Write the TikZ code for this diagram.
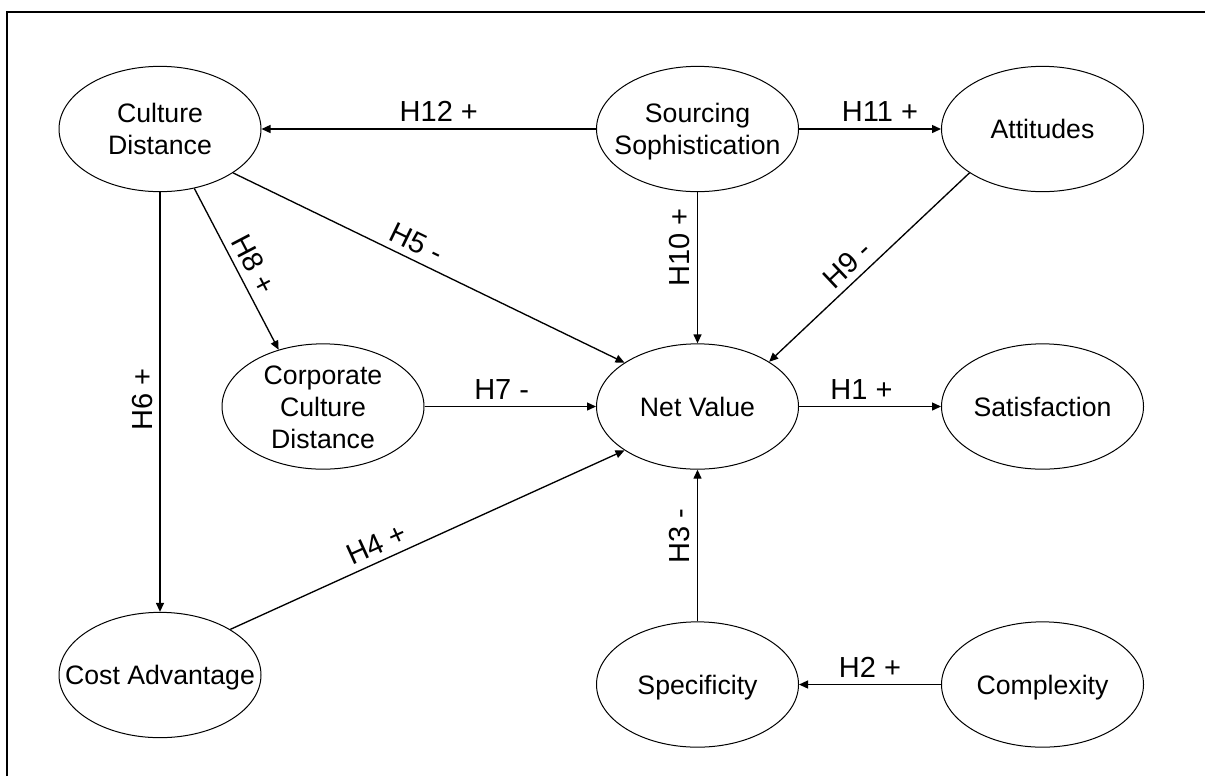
\documentclass[tikz,border=0pt]{standalone}
\usepackage{fontspec}
\setmainfont{Liberation Sans}
\usetikzlibrary{arrows.meta,shapes.geometric}
\newcommand\ctext[1]{\raisebox{\dimexpr -0.5\height+1.25pt\relax}[0pt][0pt]{\makebox[0pt]{\begin{tabular}[b]{@{}c@{}}#1\end{tabular}}}}
\begin{document}
\begin{tikzpicture}[x=0.75pt,y=-0.75pt,
  latent/.style={ellipse,draw,line width=0.75pt,minimum width=151.5pt,minimum height=94pt,inner sep=0pt,font=\fontsize{20}{24}\selectfont},
  link/.style={line width=1pt,-{Triangle[length=6.75pt,width=6pt]}},
  hyp/.style={font=\fontsize{21.75}{26}\selectfont,inner sep=0pt,above=5pt},
  vhyp/.style={font=\fontsize{21.75}{26}\selectfont,inner sep=0pt,rotate=90,anchor=south,yshift=5pt}]
\useasboundingbox (0,0) rectangle (1205,776);
\draw[line width=1.7pt] (7,776) -- (7,12) -- (1205,12);
% nodes
\node[latent] (cd)  at (160,129)    {\ctext{Culture\\Distance}};
\node[latent] (ss)  at (697.5,129)  {\ctext{Sourcing\\Sophistication}};
\node[latent] (at)  at (1042.5,129) {\ctext{Attitudes}};
\node[latent] (ccd) at (323,406.5)  {\ctext{Corporate\\Culture\\Distance}};
\node[latent] (nv)  at (697.5,406.5){\ctext{Net Value}};
\node[latent] (sat) at (1042.5,406.5){\ctext{Satisfaction}};
\node[latent] (ca)  at (160,675)    {\ctext{Cost Advantage}};
\node[latent] (sp)  at (697.5,684.5){\ctext{Specificity}};
\node[latent] (cx)  at (1042.5,684.5){\ctext{Complexity}};
% connectors
\draw[link] (ss) -- node[hyp,pos=0.47]{H12 +} (cd);
\draw[link] (ss) -- node[hyp,pos=0.57]{H11 +} (at);
\draw[link] (ss) -- node[vhyp,pos=0.365]{H10 +} (nv);
\draw[link] (at.211) -- node[hyp,sloped,pos=0.55]{H9 -} (nv.32);
\draw[link] (cd.-31) -- node[hyp,sloped,pos=0.45]{H5 -} (nv.149);
\draw[link] (cd.-60) -- node[hyp,sloped,pos=0.52]{H8 +} (ccd.128);
\draw[link] (cd) -- node[vhyp,pos=0.494]{H6 +} (ca);
\draw[link] (ccd) -- node[hyp,pos=0.45]{H7 -} (nv);
\draw[link] (nv) -- node[hyp,pos=0.44]{H1 +} (sat);
\draw[link] (ca.33) -- node[hyp,sloped,pos=0.39]{H4 +} (nv.211);
\draw[link] (sp) -- node[vhyp,pos=0.56]{H3 -} (nv);
\draw[link] (cx) -- node[hyp,pos=0.5]{H2 +} (sp);
\end{tikzpicture}
\end{document}
